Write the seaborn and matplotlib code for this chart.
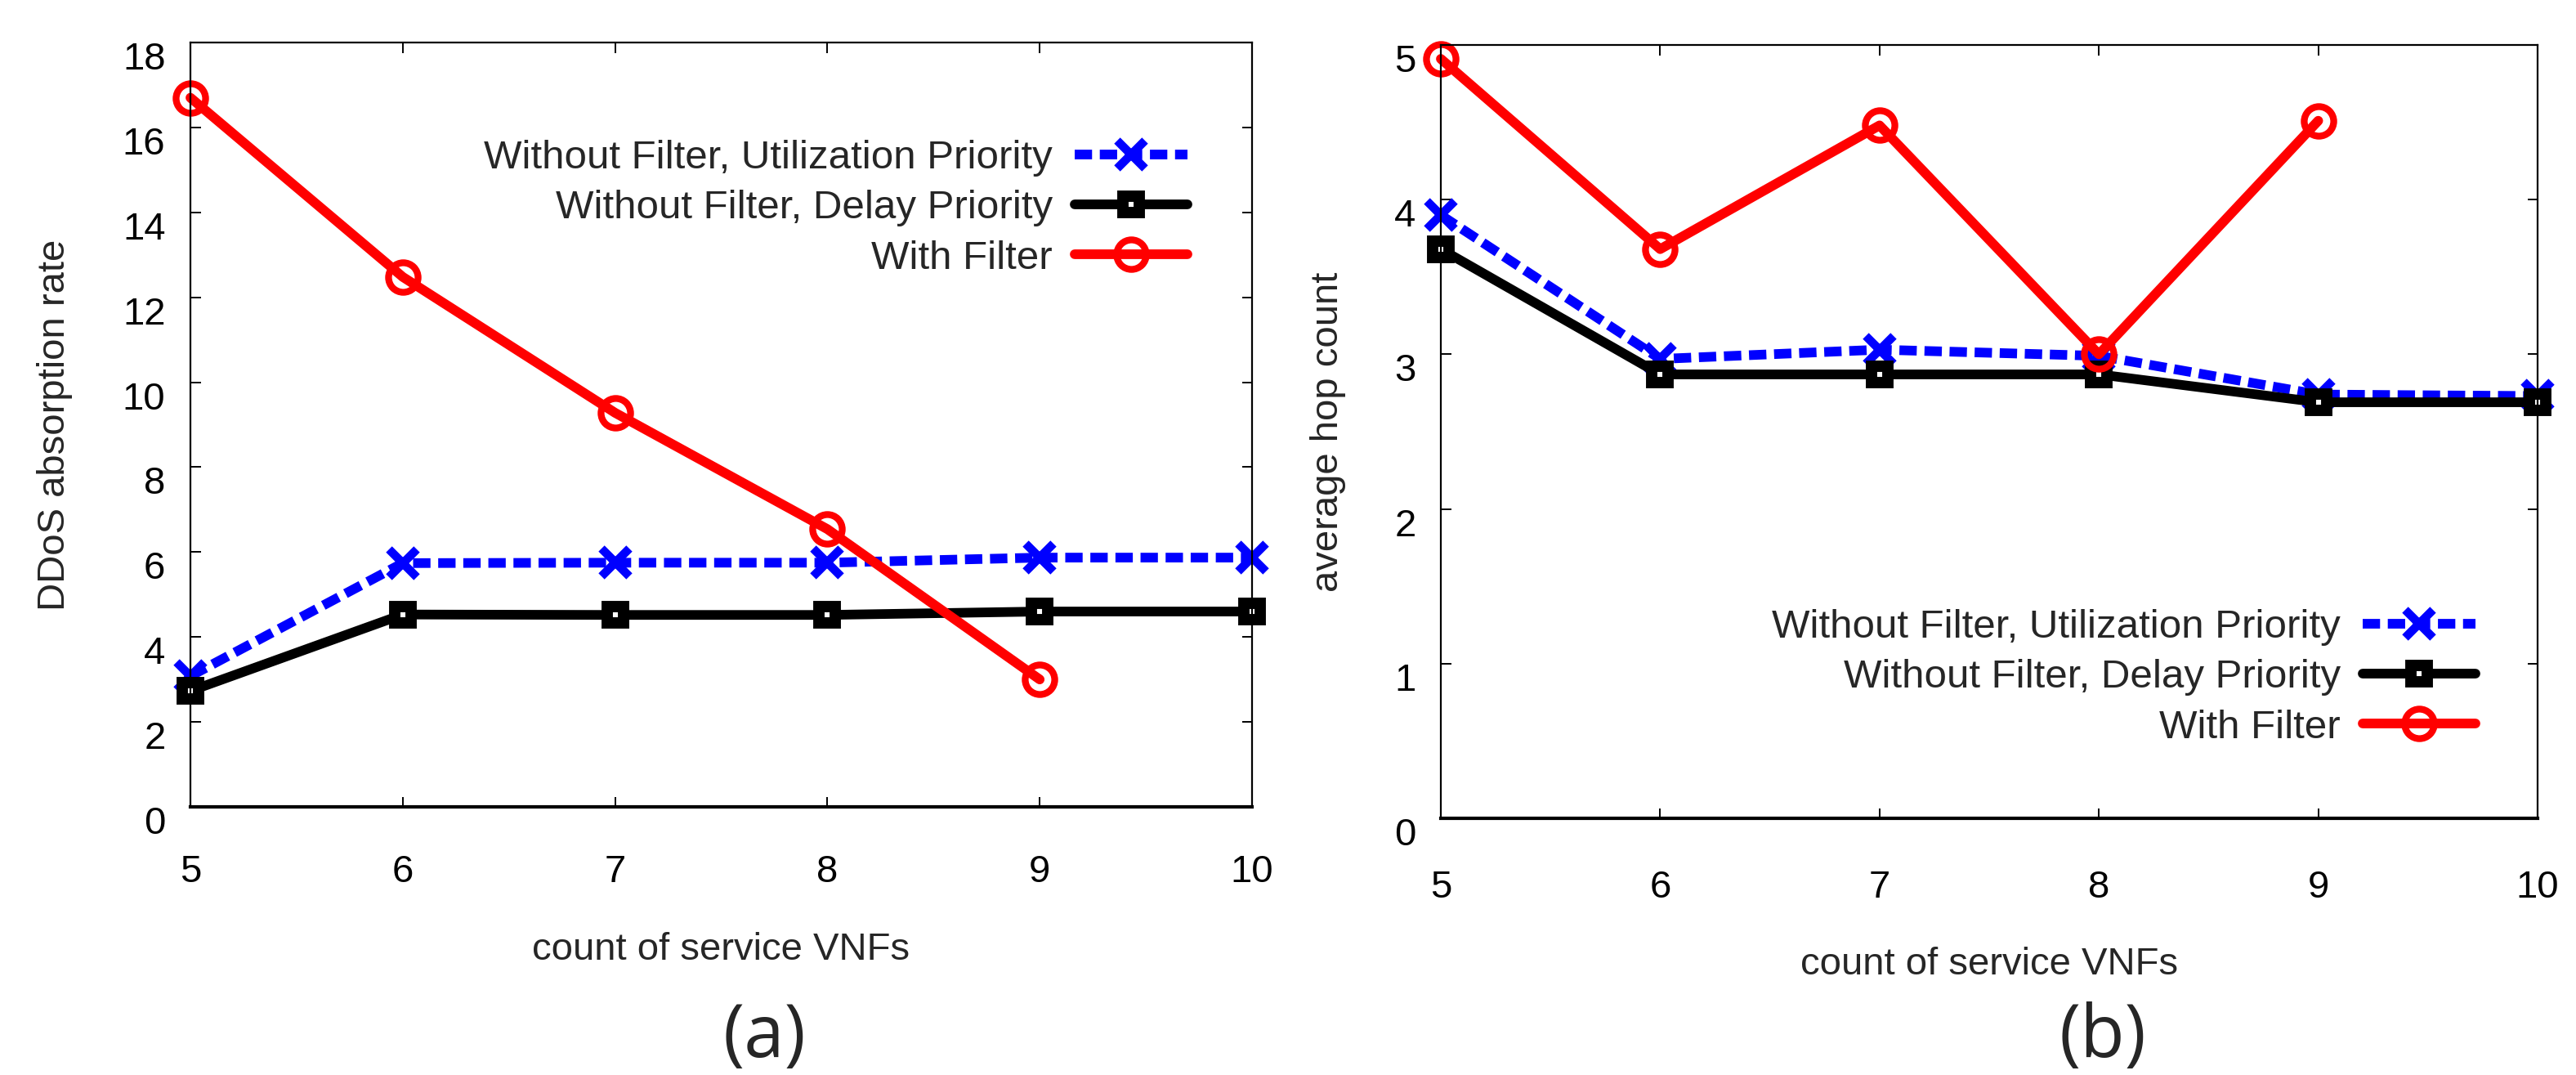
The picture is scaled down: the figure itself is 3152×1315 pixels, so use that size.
import matplotlib
matplotlib.use('Agg')
import matplotlib.pyplot as plt
import matplotlib.transforms as mtransforms
import seaborn as sns

# data
vnf_count = [5, 6, 7, 8, 9, 10]
filter_count = [5, 6, 7, 8, 9]

absorb_util = [3.08, 5.74, 5.75, 5.75, 5.87, 5.87]
absorb_delay = [2.73, 4.53, 4.52, 4.52, 4.60, 4.60]
absorb_filter = [16.70, 12.48, 9.28, 6.54, 3.00]

hop_util = [3.90, 2.97, 3.03, 2.99, 2.74, 2.73]
hop_delay = [3.68, 2.87, 2.87, 2.87, 2.69, 2.69]
hop_filter = [4.91, 3.68, 4.48, 3.00, 4.51]

labels = ['Without Filter, Utilization Priority', 'Without Filter, Delay Priority', 'With Filter']

sns.set_style('ticks')
plt.rcParams['font.family'] = ['Liberation Sans', 'DejaVu Sans']

FS = 34
LFS = 35.5
W, H = 3152, 1315
fig = plt.figure(figsize=(W / 100, H / 100), dpi=100)


def px_axes(l, r, t, b):
    return fig.add_axes([l / W, 1 - b / H, (r - l) / W, (b - t) / H])


def draw(ax, util, delay, filt):
    sns.lineplot(x=vnf_count, y=util, ax=ax, color='#0000ff', linewidth=8.5,
                 marker='x', markersize=25, markeredgewidth=7.5, markeredgecolor='#0000ff',
                 label=labels[0], clip_on=False)
    ax.lines[-1].set_dashes((1.8, 0.8))
    sns.lineplot(x=vnf_count, y=delay, ax=ax, color='black', linewidth=8.5,
                 marker='s', markersize=14.5, markeredgewidth=10, markerfacecolor='white',
                 markeredgecolor='black', label=labels[1], clip_on=False)
    sns.lineplot(x=filter_count, y=filt, ax=ax, color='#ff0000', linewidth=8.5,
                 marker='o', markersize=26, markeredgewidth=6, markerfacecolor='none',
                 markeredgecolor='#ff0000', label=labels[2], clip_on=False)
    ax.set_xlim(5, 10)
    ax.set_xticks(vnf_count)
    for s in ax.spines.values():
        s.set_linewidth(1.6)
        s.set_color('black')
    ax.spines['bottom'].set_linewidth(3)
    ax.tick_params(direction='in', top=True, right=True, length=9, width=1.4,
                   labelsize=FS, colors='black')
    ax.tick_params(axis='y', pad=22)
    off = mtransforms.ScaledTranslation(0, -0.16, fig.dpi_scale_trans)
    for lab in ax.get_yticklabels():
        lab.set_transform(lab.get_transform() + off)


def add_legend(ax, right, top):
    h, l = ax.get_legend_handles_labels()
    ax.legend(h, l, loc='upper right', bbox_to_anchor=(right / W, 1 - top / H),
              bbox_transform=fig.transFigure, frameon=False, markerfirst=False,
              fontsize=LFS, handlelength=2.8, handletextpad=0.55, labelspacing=0.33,
              borderpad=0, borderaxespad=0)


# (a)
ax1 = px_axes(233, 1532, 52, 987)
draw(ax1, absorb_util, absorb_delay, absorb_filter)
ax1.set_ylim(0, 18)
ax1.set_yticks(range(0, 19, 2))
ax1.tick_params(axis='x', pad=42)
ax1.set_ylabel('DDoS absorption rate', fontsize=FS)
ax1.yaxis.set_label_coords((67 - 233) / 1299, 0.5)
ax1.yaxis.label.set_va('center')
ax1.set_xlabel('count of service VNFs', fontsize=FS)
ax1.xaxis.set_label_coords(0.5, (987 - 1162) / 935)
ax1.xaxis.label.set_va('center')
add_legend(ax1, 1453, 171)

# (b)
ax2 = px_axes(1763, 3105, 55, 1001)
draw(ax2, hop_util, hop_delay, hop_filter)
ax2.set_ylim(0, 5)
ax2.set_yticks(range(0, 6))
ax2.tick_params(axis='x', pad=45)
ax2.set_ylabel('average hop count', fontsize=FS)
ax2.yaxis.set_label_coords((1625 - 1763) / 1342, 0.5)
ax2.yaxis.label.set_va('center')
ax2.set_xlabel('count of service VNFs', fontsize=FS)
ax2.xaxis.set_label_coords(0.5, (1001 - 1180) / 946)
ax2.xaxis.label.set_va('center')
add_legend(ax2, 3029, 745)

fig.text(935 / W, 1 - 1270 / H, '(a)', fontsize=64, family=['Open Sans', 'DejaVu Sans'],
         ha='center', va='center')
fig.text(2573 / W, 1 - 1270 / H, '(b)', fontsize=64, family=['Open Sans', 'DejaVu Sans'],
         ha='center', va='center')

fig.savefig('out.png', dpi=100, facecolor='white')
